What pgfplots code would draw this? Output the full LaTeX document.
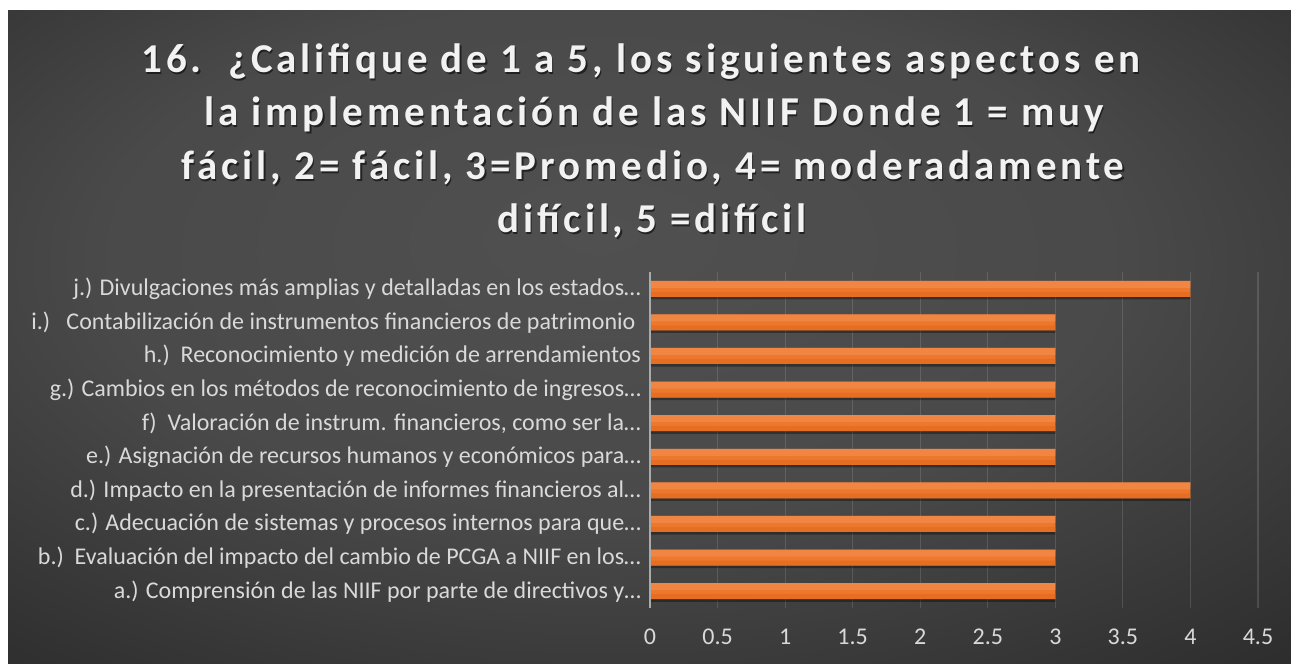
\documentclass[border=0pt]{standalone}
\usepackage{fontspec}
\setmainfont{Carlito}
\newfontfamily\titlefont[LetterSpace=9.5]{Carlito}
\usepackage{pgfplots}
\pgfplotsset{compat=1.18}

\definecolor{bgin}{RGB}{80,80,80}
\definecolor{bgout}{RGB}{36,36,36}
\definecolor{barmain}{RGB}{237,120,45}
\definecolor{bartop}{RGB}{246,146,88}
\definecolor{barbot}{RGB}{224,102,24}
\definecolor{labelgray}{RGB}{217,217,217}
\definecolor{axisgray}{RGB}{170,170,170}

\pgfdeclareradialshading{bgshade}{\pgfpoint{-2bp}{8bp}}{%
  color(0bp)=(bgin); color(20bp)=(bgin!85!bgout); color(45bp)=(bgout); color(80bp)=(bgout)}

\begin{document}
\begin{tikzpicture}
\useasboundingbox (0,0) rectangle (645.5pt,332pt);
\shade[shading=bgshade] (4pt,0) rectangle (645.5pt,326.5pt);

% title
\tikzset{ttl/.style={anchor=base, inner sep=0pt,
  font=\titlefont\bfseries\fontsize{20.5}{26}\selectfont}}
\foreach \xx/\yy/\tt in {320.5/295.5/{16.~~¿Califique de 1 a 5, los siguientes aspectos en},
    327/269/{la implementación de las NIIF Donde 1 = muy},
    326.5/242/{fácil, 2= fácil, 3=Promedio, 4= moderadamente},
    326/215.5/{difícil, 5 =difícil}}{
  \node[ttl, text=black, opacity=0.55] at (\xx pt+0.6pt,\yy pt-0.8pt) {\tt};
  \node[ttl, text=white!95!black] at (\xx pt,\yy pt) {\tt};
}

\begin{axis}[
  at={(325pt,28pt)}, anchor=south west,
  scale only axis, width=304pt, height=168pt,
  xmin=0, xmax=4.5, ymin=-0.5, ymax=9.5,
  xtick={0,0.5,1,1.5,2,2.5,3,3.5,4,4.5},
  ytick={0,1,2,3,4,5,6,7,8,9},
  yticklabels={
    {a.) Comprensión de las NIIF por parte de directivos y…},
    {b.)~~Evaluación del impacto del cambio de PCGA a NIIF en los…},
    {c.) Adecuación de sistemas y procesos internos para que…},
    {d.) Impacto en la presentación de informes financieros al…},
    {e.) Asignación de recursos humanos y económicos para…},
    {f)~~Valoración de instrum. financieros, como ser la…},
    {g.) Cambios en los métodos de reconocimiento de ingresos…},
    {h.)~~Reconocimiento y medición de arrendamientos~},
    {i.)~~~Contabilización de instrumentos financieros de patrimonio~~},
    {j.) Divulgaciones más amplias y detalladas en los estados…}},
  axis line style={draw=none},
  major tick length=0pt,
  xmajorgrids,
  major grid style={white, opacity=0.13, line width=0.6pt},
  ticklabel style={font=\fontsize{12}{14}\selectfont, text=labelgray},
  /pgf/number format/assume math mode=true,
  xticklabel style={yshift=-7pt},
  yticklabel style={xshift=-1pt},
  clip=false,
]
% drop shadow
\addplot[xbar, bar width=8pt, bar shift=-1.3pt, draw=none, fill=black, fill opacity=0.35, forget plot]
  coordinates {(3,0) (3,1) (3,2) (4,3) (3,4) (3,5) (3,6) (3,7) (3,8) (4,9)};
% bar body
\addplot[xbar, bar width=8pt, bar shift=0pt, draw=none, fill=barmain]
  coordinates {(3,0) (3,1) (3,2) (4,3) (3,4) (3,5) (3,6) (3,7) (3,8) (4,9)};
% lighter upper part, darker lower edge
\addplot[xbar, bar width=3.5pt, bar shift=2.25pt, draw=none, fill=bartop, fill opacity=0.5, forget plot]
  coordinates {(3,0) (3,1) (3,2) (4,3) (3,4) (3,5) (3,6) (3,7) (3,8) (4,9)};
\addplot[xbar, bar width=2.5pt, bar shift=-2.75pt, draw=none, fill=barbot, fill opacity=0.5, forget plot]
  coordinates {(3,0) (3,1) (3,2) (4,3) (3,4) (3,5) (3,6) (3,7) (3,8) (4,9)};
\draw[axisgray, line width=1pt] (axis cs:0,-0.5) -- (axis cs:0,9.5);
\end{axis}
\end{tikzpicture}
\end{document}
